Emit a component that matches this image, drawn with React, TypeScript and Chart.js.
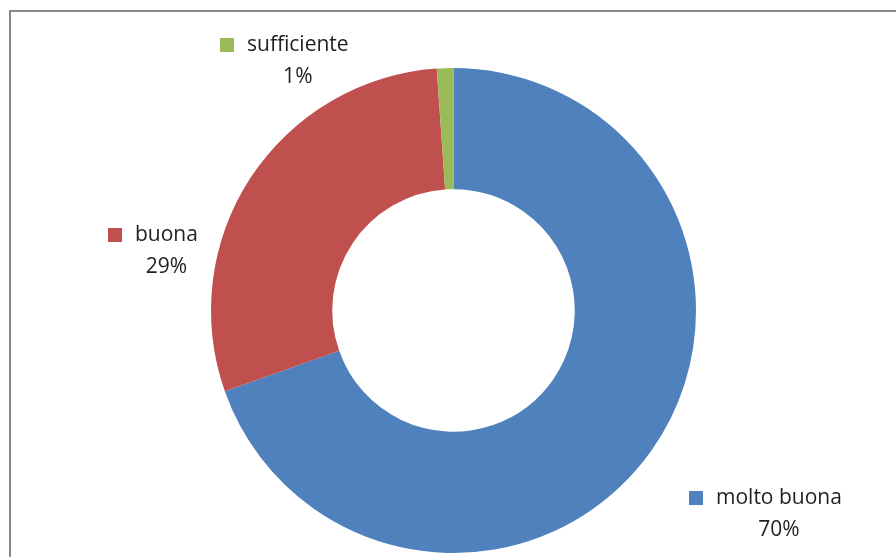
import React, { useEffect, useRef } from "react";
import { Chart, registerables } from "chart.js";

Chart.register(...registerables);

const categories = ["molto buona", "buona", "sufficiente"];
const values = [69.6, 29.3, 1.1];
const percentLabels = ["70%", "29%", "1%"];
const colors = ["#4F81BD", "#C0504D", "#9BBB59"];

// label anchor (left of marker square) positions, in canvas px
const labelPos = [
  { x: 689, y: 491 },
  { x: 108, y: 228 },
  { x: 220, y: 38 },
];

const framePlugin = {
  id: "frameAndLabels",
  afterDraw(chart: any) {
    const ctx = chart.ctx as CanvasRenderingContext2D;
    ctx.save();
    // frame
    ctx.strokeStyle = "#878787";
    ctx.lineWidth = 2;
    ctx.beginPath();
    ctx.moveTo(10, 600);
    ctx.lineTo(10, 11);
    ctx.lineTo(900, 11);
    ctx.stroke();

    // labels
    const font = '21px "Open Sans", sans-serif';
    ctx.font = font;
    ctx.textBaseline = "middle";
    categories.forEach((cat, i) => {
      const p = labelPos[i];
      ctx.fillStyle = colors[i];
      ctx.fillRect(p.x, p.y, 14, 14);
      ctx.fillStyle = "#1f1f1f";
      ctx.textAlign = "left";
      const tx = p.x + 27;
      const ty = p.y + 7;
      ctx.fillText(cat, tx, ty);
      const w = ctx.measureText(cat).width;
      ctx.textAlign = "center";
      ctx.fillText(percentLabels[i], tx + w / 2, ty + 32);
    });
    ctx.restore();
  },
};

export default function App() {
  const ref = useRef<HTMLCanvasElement | null>(null);
  useEffect(() => {
    if (!ref.current) return;
    const chart = new Chart(ref.current, {
      type: "doughnut",
      data: {
        labels: categories,
        datasets: [
          {
            data: values,
            backgroundColor: colors,
            borderWidth: 0,
          },
        ],
      },
      options: {
        animation: false,
        responsive: false,
        cutout: "50%",
        layout: { padding: { left: 211, right: 200, top: 68, bottom: 4 } },
        plugins: {
          legend: { display: false },
          tooltip: { enabled: false },
        },
      },
      plugins: [framePlugin],
    });
    return () => chart.destroy();
  }, []);
  return (
    <div style={{ position: "fixed", left: 0, top: 0, width: 896, height: 557, background: "#fff" }}>
      <canvas ref={ref} width={896} height={557} style={{ display: "block", width: 896, height: 557 }} />
    </div>
  );
}
